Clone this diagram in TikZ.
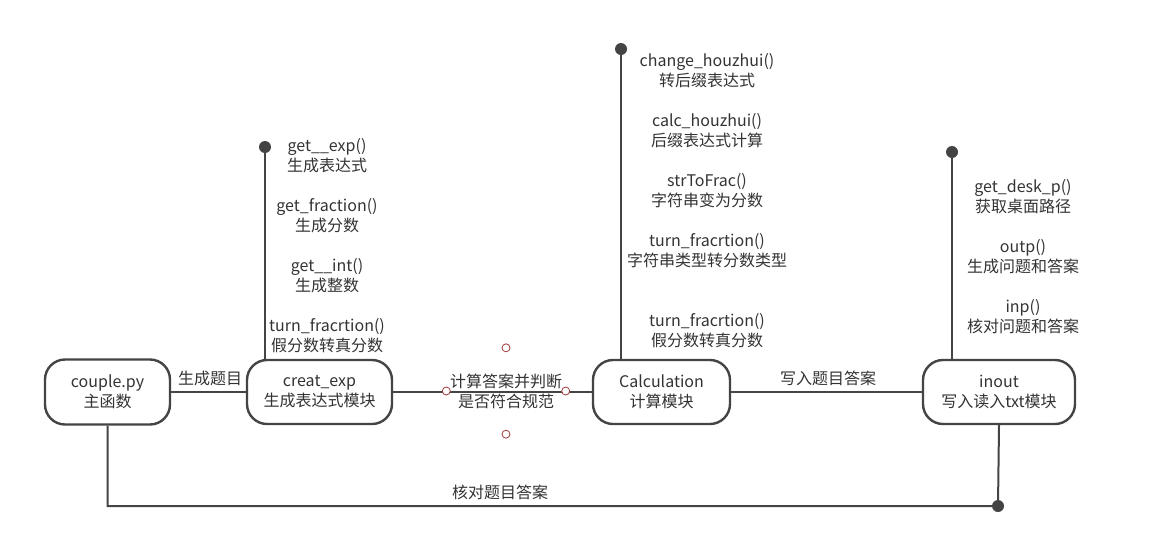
\documentclass[tikz,border=0pt]{standalone}
\usepackage{fontspec}
\setmainfont{Noto Sans CJK SC}
\usetikzlibrary{positioning}
\definecolor{ink}{HTML}{333333}
\definecolor{wire}{HTML}{444444}
\definecolor{handlered}{HTML}{A33A3A}
\tikzset{
  font=\fontsize{16}{20}\selectfont,
  module/.style={draw=wire, line width=2.4pt, rounded corners=20pt, fill=white,
                 text=ink, align=center, inner sep=0pt},
  func/.style={text=ink, align=center, inner sep=0pt},
  link/.style={draw=wire, line width=2pt},
  tag/.style={text=ink, inner sep=1pt},
  dot/.style={fill=wire},
  handle/.style={draw=handlered, fill=white, line width=.8pt}
}

\begin{document}
\begin{tikzpicture}[x=1pt,y=-1pt]
\useasboundingbox (0,0) rectangle (1156,550);

% Modules along the main row.
\node[module, minimum width=125, minimum height=65] (couple) at (107.5,392)
  {couple.py\\主函数};
\node[module, minimum width=145, minimum height=64] (creat) at (319.5,392)
  {creat\_exp\\生成表达式模块};
\node[module, minimum width=137, minimum height=64] (calc) at (661.5,392)
  {Calculation\\计算模块};
\node[module, minimum width=152, minimum height=64] (inout) at (999,392)
  {inout\\写入读入txt模块};

% Links between modules.
\draw[link] (couple.east) -- (creat.west);
\node[tag] (makeq) at (210,378) {生成题目};
\draw[link] (creat.east) -- (calc.west);
\node[func, minimum width=119, minimum height=86] (judge) at (506,391)
  {计算答案并判断\\是否符合规范};
\foreach \a in {north,south,east,west}
  \draw[handle] (judge.\a) circle (4);
\draw[link] (calc.east) -- (inout.west);
\node[tag] (writeq) at (828,378) {写入题目答案};

% Return path from inout back to the main function.
\coordinate (chk) at (998,506);
\draw[link] (couple.south) |- (chk) -- (inout.south);
\fill[dot] (chk) circle (6);
\node[tag] (checkq) at (500,492) {核对题目答案};

% creat_exp functions.
\coordinate (creatTop) at (265,147);
\draw[link] (creatTop) -- (creatTop |- creat.north);
\fill[dot] (creatTop) circle (6);
\node[func] (cf1) at (327,156) {get\_\_exp()\\生成表达式};
\node[func] (cf2) at (327,216) {get\_fraction()\\生成分数};
\node[func] (cf3) at (327,276) {get\_\_int()\\生成整数};
\node[func] (cf4) at (327,336) {turn\_fracrtion()\\假分数转真分数};

% Calculation functions.
\coordinate (calcTop) at (621,49);
\draw[link] (calcTop) -- (calcTop |- calc.north);
\fill[dot] (calcTop) circle (6);
\node[func] (kf1) at (707,71) {change\_houzhui()\\转后缀表达式};
\node[func] (kf2) at (707,131) {calc\_houzhui()\\后缀表达式计算};
\node[func] (kf3) at (707,191) {strToFrac()\\字符串变为分数};
\node[func] (kf4) at (707,251) {turn\_fracrtion()\\字符串类型转分数类型};
\node[func] (kf5) at (707,331) {turn\_fracrtion()\\假分数转真分数};

% inout functions.
\coordinate (ioTop) at (952,152);
\draw[link] (ioTop) -- (ioTop |- inout.north);
\fill[dot] (ioTop) circle (6);
\node[func] (of1) at (1023,196.5) {get\_desk\_p()\\获取桌面路径};
\node[func] (of2) at (1023,256.5) {outp()\\生成问题和答案};
\node[func] (of3) at (1023,316.5) {inp()\\核对问题和答案};

\end{tikzpicture}
\end{document}
